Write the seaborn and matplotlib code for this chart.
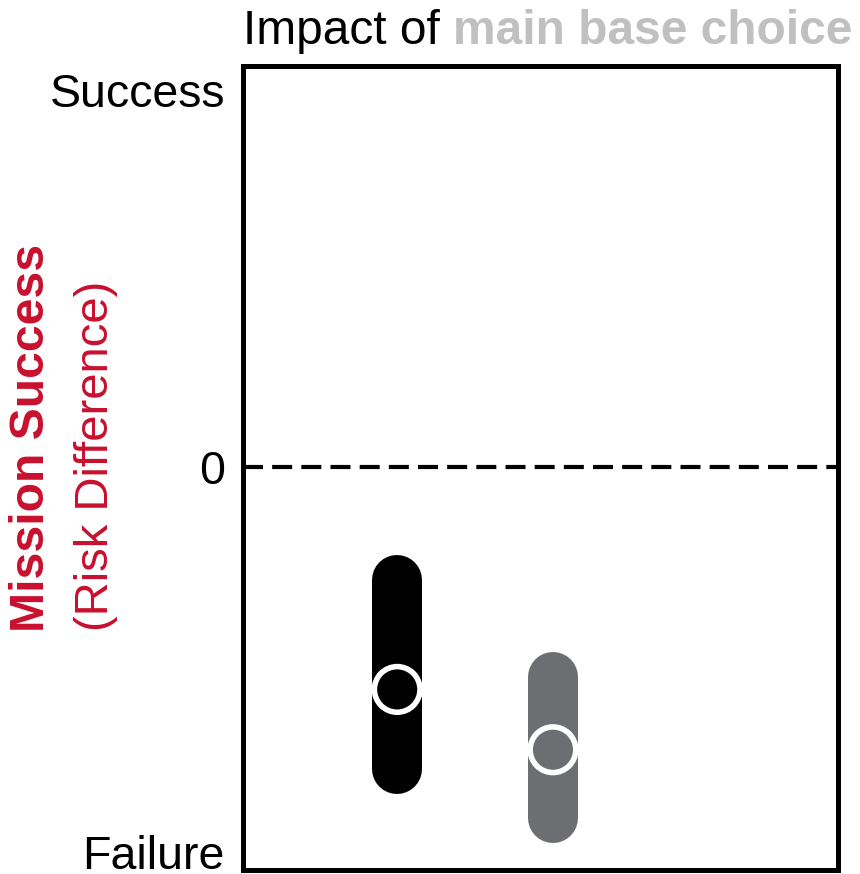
import matplotlib
matplotlib.use("Agg")
import matplotlib.pyplot as plt
import seaborn as sns
import pandas as pd

# values (risk difference, Success = +1, Failure = -1)
options = ["Option A", "Option B"]
estimate = [-0.59, -0.75]
lower = [-0.80, -0.93]
upper = [-0.30, -0.557]
colors = ["#000000", "#6d6e71"]

tick_vals = [1.0, 0.0, -1.022]
tick_text = ["Success", "0", "Failure"]

red = "#c8102e"
light_gray = "#c0c0c0"

sns.set_theme(style="white")
plt.rcParams["font.family"] = ["Liberation Sans", "DejaVu Sans"]

df = pd.DataFrame({"option": options, "estimate": estimate,
                   "lower": lower, "upper": upper})

fig = plt.figure(figsize=(8.6, 8.74), dpi=100)
ax = fig.add_axes([243 / 860, 1 - 870 / 874, 595 / 860, (870 - 65.5) / 874])

ax.axhline(0, color="black", lw=3, dashes=(4.8, 2.2), zorder=1)

ax.vlines(df["option"], df["lower"], df["upper"], colors=colors,
          linewidth=36, capstyle="round", zorder=2)

sns.scatterplot(data=df, x="option", y="estimate", hue="option",
                palette=colors, s=1080, edgecolor="white", linewidth=4,
                legend=False, zorder=3, ax=ax)

ax.set_xlim(-0.99, 2.83)
ax.set_ylim(-1.069, 1.065)
ax.set_yticks(tick_vals)
ax.set_yticklabels(tick_text)
ax.set_xticks([])
ax.set_xlabel("")
ax.set_ylabel("")
ax.tick_params(axis="y", length=0, pad=13, labelsize=33.5, labelcolor="black")
for sp in ax.spines.values():
    sp.set_visible(True)
    sp.set_color("black")
    sp.set_linewidth(3.6)

# title in two colours
t1 = fig.text(243 / 860, 1 - 54 / 874, "Impact of ", fontsize=34.5,
              color="black", ha="left", va="bottom")
ax.annotate("main base choice", xy=(1, 0), xycoords=t1, ha="left",
            va="bottom", fontsize=34.5, fontweight="bold", color=light_gray,
            annotation_clip=False)

# y label in two lines
fig.text(31 / 860, 1 - 632 / 874, "Mission Success", rotation=90,
         rotation_mode="anchor", ha="left", va="center", fontsize=34.7,
         fontweight="bold", color=red)
fig.text(96 / 860, 1 - 631 / 874, "(Risk Difference)", rotation=90,
         rotation_mode="anchor", ha="left", va="center", fontsize=34,
         color=red)

fig.savefig("out.png", dpi=100)
